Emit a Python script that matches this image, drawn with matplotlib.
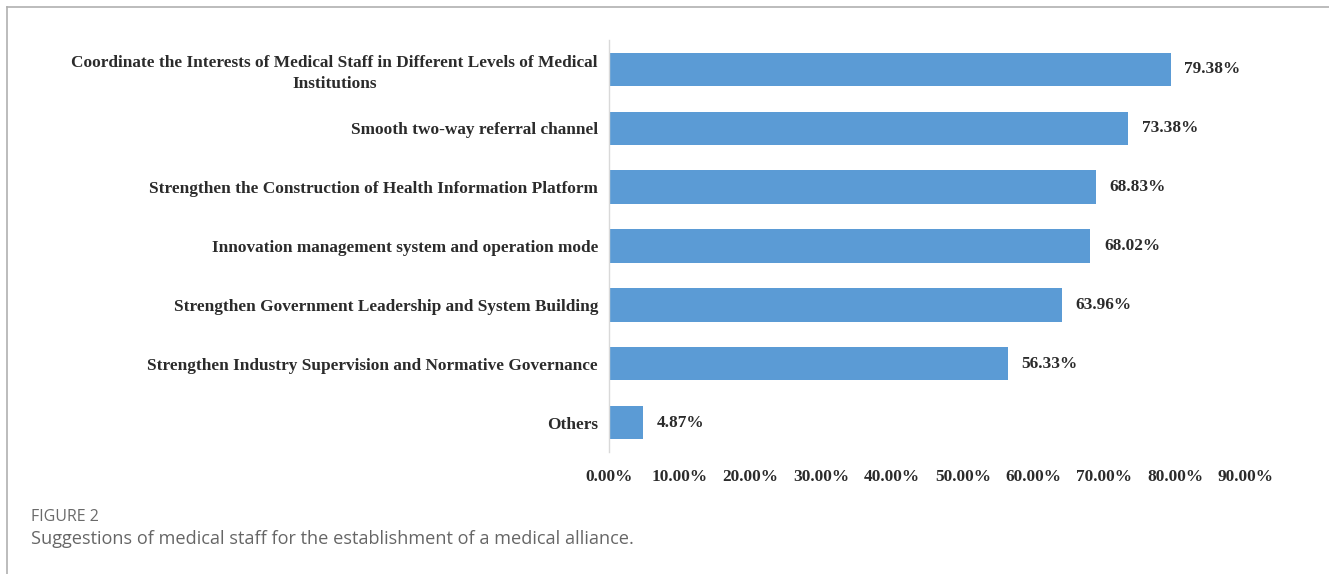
import matplotlib
matplotlib.use("Agg")
import matplotlib.pyplot as plt
from matplotlib.lines import Line2D

# ── Data ──────────────────────────────────────────────────────────────────────
categories = [
    "Coordinate the Interests of Medical Staff in Different Levels of Medical\nInstitutions",
    "Smooth two-way referral channel",
    "Strengthen the Construction of Health Information Platform",
    "Innovation management system and operation mode",
    "Strengthen Government Leadership and System Building",
    "Strengthen Industry Supervision and Normative Governance",
    "Others",
]
percentages = [79.38, 73.38, 68.83, 68.02, 63.96, 56.33, 4.87]
x_ticks = [0, 10, 20, 30, 40, 50, 60, 70, 80, 90]

BAR_COLOR = "#5B9BD5"
TEXT_COLOR = "#2b2b2b"
SERIF = "Liberation Serif"
FS = 12.4

fig = plt.figure(figsize=(13.29, 5.74), dpi=100)
ax = fig.add_axes([609 / 1329, 1 - 452 / 574, 637 / 1329, 412 / 574])

y_pos = list(range(len(categories)))
ax.barh(y_pos, percentages, height=0.57, color=BAR_COLOR, zorder=2)

for y, v in zip(y_pos, percentages):
    ax.text(v + 1.9, y, f"{v:.2f}%", va="center", ha="left",
            fontsize=FS, fontweight="bold", family=SERIF, color=TEXT_COLOR)

ax.set_ylim(len(categories) - 0.5, -0.5)
ax.set_xlim(0, 90)
ax.set_yticks(y_pos)
ax.set_yticklabels(categories, ha="right", multialignment="center",
                   linespacing=1.35)
ax.set_xticks(x_ticks)
ax.set_xticklabels([f"{t:.2f}%" for t in x_ticks])

for lbl in ax.get_yticklabels() + ax.get_xticklabels():
    lbl.set_family(SERIF)
    lbl.set_fontweight("bold")
    lbl.set_fontsize(FS)
    lbl.set_color(TEXT_COLOR)

ax.tick_params(axis="both", length=0)
ax.tick_params(axis="y", pad=8)
ax.tick_params(axis="x", pad=12)
for side in ["top", "right", "bottom"]:
    ax.spines[side].set_visible(False)
ax.spines["left"].set_color("#d9d9d9")
ax.spines["left"].set_linewidth(1)

# outer frame (top and left grey rule)
fig.add_artist(Line2D([7 / 1329, 1], [1 - 7 / 574, 1 - 7 / 574],
                      transform=fig.transFigure, color="#b0b0b0", linewidth=1.2))
fig.add_artist(Line2D([7 / 1329, 7 / 1329], [0, 1 - 7 / 574],
                      transform=fig.transFigure, color="#b0b0b0", linewidth=1.2))

# caption
fig.text(31 / 1329, 1 - 517 / 574, "FIGURE 2", fontsize=11.5, color="#6a6a6a",
         family=["Liberation Sans Narrow", "Open Sans"], va="center", ha="left")
fig.text(31 / 1329, 1 - 539 / 574,
         "Suggestions of medical staff for the establishment of a medical alliance.",
         fontsize=13.1, color="#666666", family="Open Sans", va="center", ha="left")

fig.savefig("out.png", dpi=100)
